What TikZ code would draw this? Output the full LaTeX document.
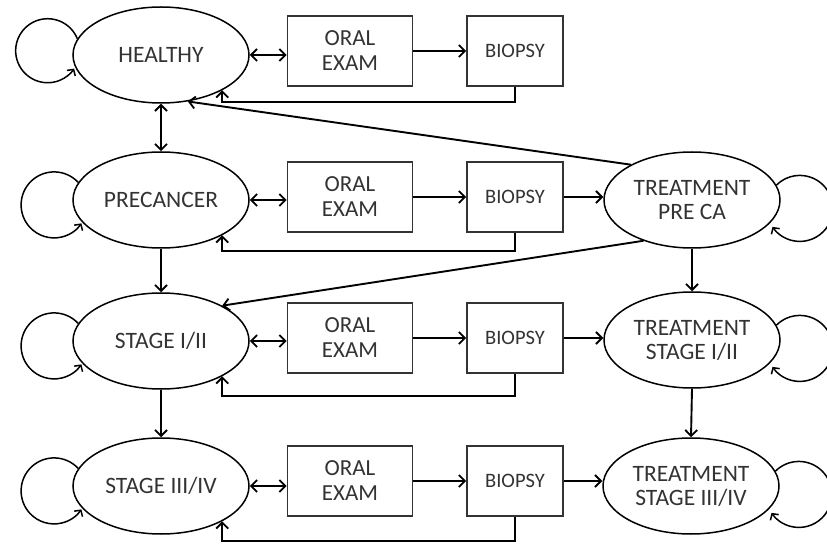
\documentclass[tikz,border=0pt]{standalone}
\usepackage{fontspec}
\setmainfont{Carlito}
\usetikzlibrary{arrows.meta,shapes.geometric}
\definecolor{txt}{HTML}{333333}
\tikzset{
  state/.style={draw=black, line width=1.5pt, ellipse, minimum width=176pt, minimum height=96pt, inner sep=0pt,
     text=txt, align=center, font=\fontsize{23.5}{24}\selectfont},
  exambox/.style={draw=black!80, line width=1.9pt, rectangle, minimum width=125pt, minimum height=70pt, inner sep=0pt,
     text=txt, align=center, font=\fontsize{23}{25}\selectfont},
  biobox/.style={exambox, minimum width=96pt, font=\fontsize{20.5}{22}\selectfont},
  conn/.style={draw=black, line width=1.9pt, -{Straight Barb[length=6pt,width=12pt,line width=1.8pt]}},
  dconn/.style={draw=black, line width=1.9pt, {Straight Barb[length=6pt,width=12pt,line width=1.8pt]}-{Straight Barb[length=6pt,width=12pt,line width=1.8pt]}},
  loopc/.style={draw=black, line width=1.5pt, -{Straight Barb[length=4.5pt,width=10pt,line width=1.5pt]}}
}
\begin{document}
\begin{tikzpicture}[x=1pt,y=1pt]
\useasboundingbox (0,0) rectangle (827,544);
% states
\node[state] (H)   at (161,489) {HEALTHY};
\node[state] (PC)  at (161,344) {PRECANCER};
\node[state] (S12) at (161,203) {STAGE I/II};
\node[state] (S34) at (161,58)  {STAGE III/IV};
\node[state] (TPC) at (692,344) {TREATMENT\\PRE CA};
\node[state] (T12) at (692,204) {TREATMENT\\STAGE I/II};
\node[state] (T34) at (691,58)  {TREATMENT\\STAGE III/IV};
% boxes
\node[exambox] (O1) at (350,493) {ORAL\\EXAM};
\node[biobox]  (B1) at (515,493) {BIOPSY};
\node[exambox] (O2) at (350,347) {ORAL\\EXAM};
\node[biobox]  (B2) at (515,347) {BIOPSY};
\node[exambox] (O3) at (350,206) {ORAL\\EXAM};
\node[biobox]  (B3) at (515,206) {BIOPSY};
\node[exambox] (O4) at (350,63)  {ORAL\\EXAM};
\node[biobox]  (B4) at (515,63)  {BIOPSY};
% horizontal connectors
\draw[dconn] (H.east) -- (H.east -| O1.west);
\draw[conn] (O1.east) -- (O1.east -| B1.west);
\draw[dconn] (PC.east) -- (PC.east -| O2.west);
\draw[conn] (O2.east) -- (O2.east -| B2.west);
\draw[conn] (B2.east) -- (B2.east -| TPC.west);
\draw[dconn] (S12.east) -- (S12.east -| O3.west);
\draw[conn] (O3.east) -- (O3.east -| B3.west);
\draw[conn] (B3.east) -- (B3.east -| T12.west);
\draw[dconn] (S34.east) -- (S34.east -| O4.west);
\draw[conn] (O4.east) -- (O4.east -| B4.west);
\draw[conn] (B4.east) -- (B4.east -| T34.west);
% feedback
\draw[conn] (B1.south) -- ++(0,-15) -| (H.-30);
\draw[conn] (B2.south) -- ++(0,-18) -| (PC.-30);
\draw[conn] (B3.south) -- ++(0,-22) -| (S12.-30);
\draw[conn] (B4.south) -- ++(0,-24) -| (S34.-30);
% vertical
\draw[dconn] (H.south) -- (PC.north);
\draw[conn] (PC.south) -- (S12.north);
\draw[conn] (S12.south) -- (S34.north);
\draw[conn] (TPC.south) -- (T12.north);
\draw[conn] (T12.south) -- (T34.north);
% diagonals
\draw[conn] (TPC.150) -- (H.-60);
\draw[conn] (TPC.-140) -- (S12.30);
% loops
\draw[loopc] (H.169) arc[start angle=22, end angle=326, radius=32pt];
\draw[loopc] (PC.168) arc[start angle=43, end angle=326, radius=33pt];
\draw[loopc] (S12.168) arc[start angle=43, end angle=326, radius=33pt];
\draw[loopc] (S34.168) arc[start angle=43, end angle=326, radius=33pt];
\draw[loopc] (TPC.10) arc[start angle=135, end angle=-146, radius=33pt];
\draw[loopc] (T12.10) arc[start angle=135, end angle=-146, radius=33pt];
\draw[loopc] (T34.10) arc[start angle=135, end angle=-146, radius=33pt];
\end{tikzpicture}
\end{document}
